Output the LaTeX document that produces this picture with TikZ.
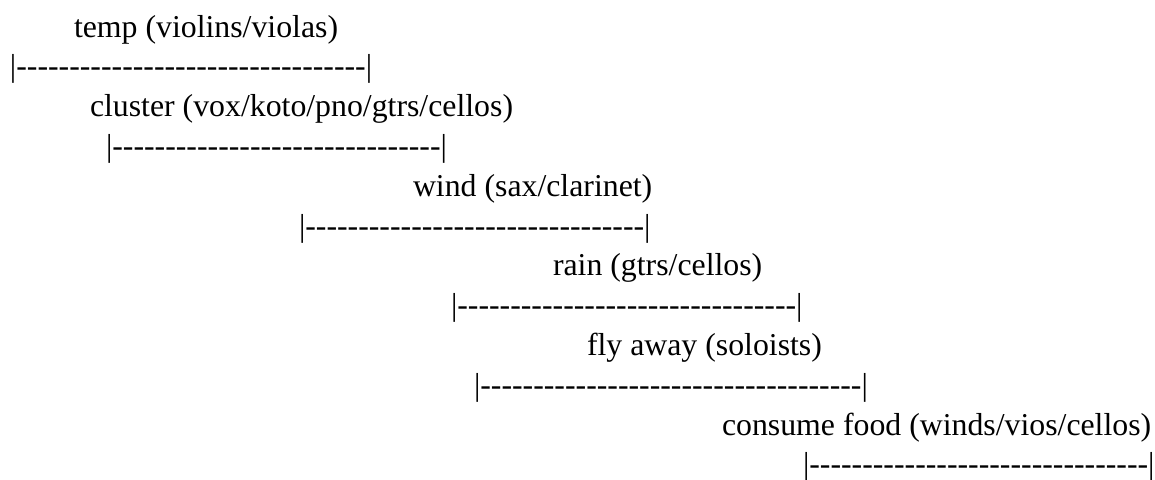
\documentclass[tikz,border=0pt]{standalone}
\usepackage{fontspec}
\setmainfont{Liberation Serif}
% one hyphen per box, so that runs of hyphens are never joined into dashes
\newcommand\hyph{\hbox{-}}
\newcount\hyphcount
\newcommand\dashrun[1]{\hyphcount=0 \loop\ifnum\hyphcount<#1 \hyph\advance\hyphcount by 1 \repeat}
\newcommand\spanbar[1]{|\dashrun{#1}|}
\tikzset{
  lbl/.style={anchor=base west, inner sep=0pt, outer sep=0pt,
              font=\fontsize{15.9}{19}\selectfont, text=black},
}
\begin{document}
\begin{tikzpicture}[x=0.5pt, y=-0.5pt]
  \useasboundingbox[fill=white] (0,0) rectangle (1155,479);
  % section names with their instruments
  \node[lbl] (t1) at (74,37)    {temp (violins/violas)};
  \node[lbl] (t2) at (90,116.6) {cluster (vox/koto/pno/gtrs/cellos)};
  \node[lbl] (t3) at (413,196.2) {wind (sax/clarinet)};
  \node[lbl] (t4) at (553,275.8) {rain (gtrs/cellos)};
  \node[lbl] (t5) at (587,355.4) {fly away (soloists)};
  \node[lbl] (t6) at (722,435)  {consume food (winds/vios/cellos)};
  % time spans
  \node[lbl] (b1) at (10,76.8)   {\spanbar{33}};
  \node[lbl] (b2) at (106,156.4) {\spanbar{31}};
  \node[lbl] (b3) at (299,236)   {\spanbar{32}};
  \node[lbl] (b4) at (451,315.6) {\spanbar{32}};
  \node[lbl] (b5) at (474,395.2) {\spanbar{36}};
  \node[lbl] (b6) at (803,474.8) {\spanbar{32}};
\end{tikzpicture}
\end{document}
